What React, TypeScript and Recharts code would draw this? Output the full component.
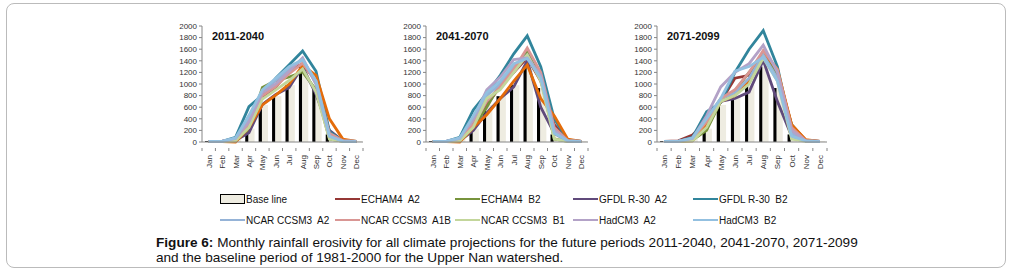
import React from 'react'
import { ComposedChart, Bar, Line, XAxis, YAxis } from 'recharts'

const months = ['Jan', 'Feb', 'Mar', 'Apr', 'May', 'Jun', 'Jul', 'Aug', 'Sep', 'Oct', 'Nov', 'Dec']
const yTicks = [0, 200, 400, 600, 800, 1000, 1200, 1400, 1600, 1800, 2000]

// baseline 1981-2000 (bars)
const baseline = [15, 8, 55, 230, 640, 790, 980, 1300, 930, 130, 20, 15]

// 2011-2040
const echamA2_1 = [10, 10, 40, 300, 760, 950, 1230, 1350, 1050, 160, 20, 10]
const echamB2_1 = [10, 10, 20, 220, 940, 1060, 1120, 1210, 900, 50, 10, 5]
const gfdlA2_1 = [10, 10, 30, 160, 650, 820, 940, 1300, 820, 200, 20, 5]
const gfdlB2_1 = [10, 10, 80, 610, 810, 1100, 1330, 1570, 1220, 180, 20, 10]
const orange_1 = [5, 5, 0, 250, 640, 810, 1000, 1320, 1150, 400, 50, 10]
const ncarA2_1 = [10, 10, 60, 400, 860, 1060, 1260, 1420, 1000, 100, 20, 10]
const ncarA1B_1 = [10, 10, 50, 320, 800, 960, 1180, 1360, 1050, 150, 20, 10]
const ncarB1_1 = [5, 5, 20, 250, 740, 900, 1060, 1260, 860, 50, 10, 5]
const hadA2_1 = [10, 10, 60, 350, 850, 1000, 1220, 1450, 1000, 100, 20, 10]
const hadB2_1 = [10, 10, 70, 460, 900, 1100, 1300, 1420, 1050, 100, 10, 5]

// 2041-2070
const echamA2_2 = [10, 10, 30, 300, 650, 950, 1200, 1450, 1050, 300, 30, 10]
const echamB2_2 = [10, 10, 20, 250, 600, 1000, 1200, 1550, 1100, 50, 10, 5]
const gfdlA2_2 = [10, 10, 20, 200, 500, 750, 950, 1400, 600, 150, 20, 5]
const gfdlB2_2 = [10, 10, 80, 550, 840, 1150, 1520, 1830, 1300, 400, 30, 10]
const orange_2 = [5, 5, 0, 250, 470, 750, 1050, 1330, 750, 450, 50, 10]
const ncarA2_2 = [10, 10, 60, 380, 800, 1000, 1300, 1500, 1100, 200, 20, 10]
const ncarA1B_2 = [10, 10, 40, 300, 700, 950, 1250, 1620, 1200, 250, 20, 10]
const ncarB1_2 = [5, 5, 20, 250, 750, 900, 1200, 1500, 1050, 50, 10, 5]
const hadA2_2 = [10, 10, 60, 400, 900, 1120, 1420, 1450, 1150, 200, 20, 10]
const hadB2_2 = [10, 10, 70, 450, 850, 1050, 1350, 1440, 1100, 150, 20, 5]

// 2071-2099
const echamA2_3 = [10, 20, 120, 350, 700, 1100, 1150, 1500, 1200, 300, 30, 10]
const echamB2_3 = [10, 10, 30, 200, 700, 880, 1200, 1500, 1150, 300, 20, 5]
const gfdlA2_3 = [10, 10, 40, 300, 700, 750, 860, 1410, 700, 100, 20, 5]
const gfdlB2_3 = [10, 10, 80, 520, 680, 1200, 1600, 1920, 1300, 200, 20, 10]
const orange_3 = [5, 5, 20, 300, 700, 800, 1050, 1550, 1250, 300, 40, 10]
const ncarA2_3 = [10, 10, 60, 400, 750, 850, 1100, 1500, 1100, 150, 20, 10]
const ncarA1B_3 = [10, 10, 60, 350, 750, 900, 1200, 1580, 1250, 250, 20, 10]
const ncarB1_3 = [5, 5, 20, 250, 700, 800, 1000, 1450, 1050, 50, 10, 5]
const hadA2_3 = [10, 10, 60, 450, 950, 1200, 1350, 1670, 1200, 200, 20, 10]
const hadB2_3 = [10, 10, 70, 400, 750, 1220, 1300, 1460, 1050, 100, 20, 5]

const seriesKeys = ['echamA2', 'echamB2', 'gfdlA2', 'gfdlB2', 'orange', 'ncarA2', 'ncarA1B', 'ncarB1', 'hadA2', 'hadB2']
const seriesColors: Record<string, string> = {
  echamA2: '#953735',
  echamB2: '#77933C',
  gfdlA2: '#604A7B',
  gfdlB2: '#31859C',
  orange: '#E46C0A',
  ncarA2: '#95B3D7',
  ncarA1B: '#D99694',
  ncarB1: '#C3D69B',
  hadA2: '#B3A2C7',
  hadB2: '#93C0E0',
}

const legendRows = [
  [
    { key: 'base', label: 'Base line' },
    { key: 'echamA2', label: 'ECHAM4  A2' },
    { key: 'echamB2', label: 'ECHAM4  B2' },
    { key: 'gfdlA2', label: 'GFDL R-30  A2' },
    { key: 'gfdlB2', label: 'GFDL R-30  B2' },
  ],
  [
    { key: 'ncarA2', label: 'NCAR CCSM3  A2' },
    { key: 'ncarA1B', label: 'NCAR CCSM3  A1B' },
    { key: 'ncarB1', label: 'NCAR CCSM3  B1' },
    { key: 'hadA2', label: 'HadCM3  A2' },
    { key: 'hadB2', label: 'HadCM3  B2' },
  ],
]
const legendX = [220, 335, 455, 573, 693]

function buildRows(series: number[][]) {
  return months.map((m, i) => {
    const row: Record<string, number | string> = { month: m, base: baseline[i] }
    seriesKeys.forEach((k, j) => {
      row[k] = series[j][i]
    })
    return row
  })
}

const panels = [
  {
    title: '2011-2040',
    plotLeft: 202,
    plotWidth: 161,
    data: buildRows([echamA2_1, echamB2_1, gfdlA2_1, gfdlB2_1, orange_1, ncarA2_1, ncarA1B_1, ncarB1_1, hadA2_1, hadB2_1]),
  },
  {
    title: '2041-2070',
    plotLeft: 426,
    plotWidth: 162,
    data: buildRows([echamA2_2, echamB2_2, gfdlA2_2, gfdlB2_2, orange_2, ncarA2_2, ncarA1B_2, ncarB1_2, hadA2_2, hadB2_2]),
  },
  {
    title: '2071-2099',
    plotLeft: 657,
    plotWidth: 170,
    data: buildRows([echamA2_3, echamB2_3, gfdlA2_3, gfdlB2_3, orange_3, ncarA2_3, ncarA1B_3, ncarB1_3, hadA2_3, hadB2_3]),
  },
]

const FONT = '"Liberation Sans", Arial, sans-serif'

function StripedBar(props: any) {
  const { x, y, width, height } = props
  if (!height || height <= 0) return null
  return (
    <g>
      <rect x={x + width * 0.15} y={y} width={width * 0.3} height={height} fill="#000" />
      <rect x={x + width * 0.45} y={y} width={width * 0.55} height={height} fill="#EEECE1" />
    </g>
  )
}

function MonthTick(props: any) {
  const { x, y, payload, bw, last } = props
  return (
    <g>
      <line x1={x - bw / 2} y1={y - 2} x2={x - bw / 2} y2={y + 1} stroke="#868686" />
      {last && <line x1={x + bw / 2} y1={y - 2} x2={x + bw / 2} y2={y + 1} stroke="#868686" />}
      <text
        x={x + 3}
        y={y + 5}
        transform={`rotate(-90 ${x + 3} ${y + 5})`}
        textAnchor="end"
        fontSize={8}
        fontFamily={FONT}
        fill="#333"
      >
        {payload.value}
      </text>
    </g>
  )
}

function Panel({ title, plotLeft, plotWidth, data }: any) {
  const left = plotLeft - 40
  const width = plotWidth + 48
  const bw = plotWidth / 12
  return (
    <div style={{ position: 'absolute', left, top: 0 }}>
      <ComposedChart
        width={width}
        height={175}
        data={data}
        margin={{ top: 26, right: 8, bottom: 5, left: 10 }}
        barCategoryGap="10%"
      >
        <XAxis
          dataKey="month"
          interval={0}
          height={28}
          axisLine={{ stroke: '#868686' }}
          tickLine={false}
          tick={(p: any) => <MonthTick {...p} bw={bw} last={p.index === 11} />}
        />
        <YAxis
          domain={[0, 2000]}
          ticks={yTicks}
          width={30}
          interval={0}
          axisLine={{ stroke: '#868686' }}
          tickLine={{ stroke: '#868686' }}
          tickSize={3}
          tickMargin={2}
          tick={{ fontSize: 8, fill: '#333', fontFamily: FONT }}
        />
        <Bar dataKey="base" shape={<StripedBar />} isAnimationActive={false} />
        {seriesKeys.map((k) => (
          <Line
            key={k}
            type="linear"
            dataKey={k}
            stroke={seriesColors[k]}
            strokeWidth={2.8}
            dot={false}
            isAnimationActive={false}
          />
        ))}
      </ComposedChart>
      <div
        style={{
          position: 'absolute',
          left: 50,
          top: 30,
          fontFamily: FONT,
          fontWeight: 'bold',
          fontSize: 11,
          color: '#111',
        }}
      >
        {title}
      </div>
    </div>
  )
}

export default function App() {
  return (
    <div style={{ position: 'absolute', left: 0, top: 0, width: 1014, height: 274, background: '#fff', fontFamily: FONT }}>
      <div
        style={{
          position: 'absolute',
          left: 6,
          top: 3,
          width: 1000,
          height: 265,
          border: '1px solid #BBBBBB',
          borderRadius: 8,
          boxSizing: 'border-box',
        }}
      />
      {panels.map((p) => (
        <Panel key={p.title} {...p} />
      ))}
      {legendRows.map((row, ri) =>
        row.map((item, ci) => (
          <div
            key={item.key}
            style={{
              position: 'absolute',
              left: legendX[ci],
              top: 192 + ri * 21,
              height: 14,
              display: 'flex',
              alignItems: 'center',
              fontSize: 10,
              color: '#111',
              whiteSpace: 'pre',
            }}
          >
            {item.key === 'base' ? (
              <span style={{ width: 23, height: 8, border: '1px solid #000', background: '#EEECE1', display: 'inline-block' }} />
            ) : (
              <span style={{ width: 25, height: 2.5, background: seriesColors[item.key], display: 'inline-block' }} />
            )}
            <span style={{ marginLeft: 1 }}>{item.label}</span>
          </div>
        ))
      )}
      <div
        style={{
          position: 'absolute',
          left: 156,
          top: 235,
          fontSize: 13.6,
          lineHeight: '15px',
          color: '#111',
          width: 800,
        }}
      >
        <b>Figure 6:</b> Monthly rainfall erosivity for all climate projections for the future periods 2011-2040, 2041-2070, 2071-2099
        <br />
        and the baseline period of 1981-2000 for the Upper Nan watershed.
      </div>
    </div>
  )
}
